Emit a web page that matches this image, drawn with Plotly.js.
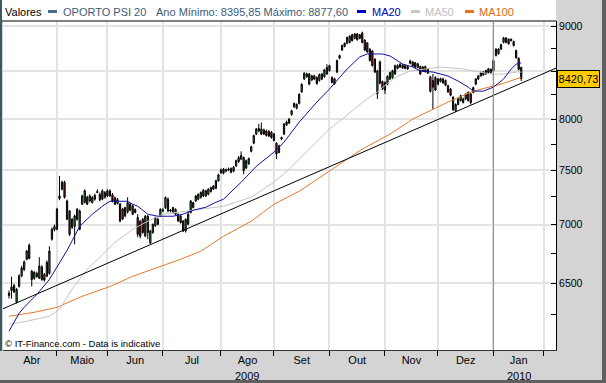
<!DOCTYPE html>
<html><head><meta charset="utf-8">
<script src="https://cdn.plot.ly/plotly-3.0.1.min.js"></script>
<style>html,body{margin:0;padding:0;background:#d4d4d4;overflow:hidden}#chart{width:606px;height:383px}</style>
</head><body><div id="chart"></div>
<script>
// ---- DATA (trading-day index; day 0 = first trading day of April 2009) ----
const firstCandleDay = 1;
const openV = [
6420,6470,6480,6345,6475,6560,6614,6700,6820,6600,
6540,6580,6542,6635,6573,6558,6581,6872,6985,6959,
7235,7321,7386,7213,7123,6976,6985,7138,6959,7183,
7200,7247,7213,7198,7265,7300,7223,7306,7244,7306,
7306,7270,7240,7190,7185,7140,7078,7113,7130,7168,
7135,7063,7030,7048,6900,7075,6840,6930,6990,7048,
7078,7130,7153,7229,7120,7108,7093,7093,7078,7033,
6944,7003,7108,7153,7213,7229,7244,7313,7259,7274,
7300,7351,7330,7400,
7475,7509,7490,7500,7515,7490,7540,7620,7605,7620,7520,
7560,7680,7760,7850,7880,7900,7890,7880,7875,7870,
7850,7760,7670,7800,7850,7940,7960,8045,8125,8110,
8160,8280,8416,8440,8470,8405,8450,8432,8400,8416,8440,8470,
8505,8432,8420,8490,8640,8730,8805,8805,8815,8900,8860,8910,
8860,8920,8840,8810,8740,8720,8630,8260,8600,8390,
8300,8360,8416,8430,8470,8560,8545,8565,8560,8525,
8610,8600,8590,8540,8550,8500,8550,8480,8440,8400,8432,
8362,8390,8416,8400,8345,8310,8225,8085,8150,8190,
8206,8206,8275,8258,8275,8362,8416,8450,8460,8470,8525,8485,
8505,8670,8690,8740,8815,8865,8850,8835,8825,8725,8640,8540];
const highV = [
6440,6555,6495,6460,6575,6645,6690,6780,6835,6610,
6600,6595,6717,6650,6585,6690,6811,6975,7000,7150,
7445,7400,7400,7225,7130,7060,7090,7150,7135,7270,
7320,7260,7275,7260,7280,7320,7290,7320,7305,7320,
7320,7285,7255,7240,7195,7150,7160,7247,7195,7180,
7145,7093,7040,7060,7085,7085,6955,7010,7070,7060,
7145,7150,7255,7245,7140,7160,7145,7100,7085,7040,
7055,7123,7220,7205,7265,7280,7300,7320,7315,7330,
7345,7360,7410,7465,
7515,7520,7515,7525,7525,7540,7600,7635,7680,7630,7600,
7620,7735,7845,7910,7950,7965,7905,7895,7890,7880,
7860,7770,7745,7825,7960,7985,8010,8095,8170,8160,
8265,8370,8490,8485,8480,8460,8460,8445,8475,8480,8525,8575,
8570,8445,8430,8625,8680,8790,8815,8880,8895,8910,8920,8920,
8910,8935,8850,8820,8750,8730,8640,8515,8615,8400,
8390,8455,8495,8515,8570,8575,8585,8580,8570,8560,
8625,8610,8600,8590,8560,8555,8560,8530,8450,8470,8445,
8425,8430,8430,8410,8355,8320,8235,8160,8215,8250,
8220,8265,8285,8270,8335,8425,8460,8495,8500,8515,8535,8530,
8625,8750,8750,8800,8877.60,8875,8860,8860,8835,8735,8650,8550];
const lowV = [
6375,6375,6420,6335,6465,6550,6600,6690,6700,6473,
6528,6545,6535,6520,6515,6550,6570,6860,6940,6950,
7220,7310,7235,7040,6900,6960,6828,7035,6950,7175,
7190,7175,7200,7190,7215,7285,7210,7220,7235,7250,
7250,7200,7175,7180,7020,7040,7065,7100,7120,7085,
7100,6890,6880,6920,6890,6872,6828,6920,6980,6995,
7070,7110,7140,7110,7110,7100,7085,7025,7010,6935,
6930,6995,7100,7145,7205,7220,7235,7250,7250,7265,
7290,7315,7320,7390,
7465,7460,7480,7490,7470,7480,7530,7570,7595,7460,7510,
7550,7670,7750,7840,7870,7840,7840,7825,7820,7805,
7780,7605,7660,7790,7840,7930,7950,8035,8115,8100,
8150,8270,8405,8430,8350,8395,8405,8355,8390,8405,8430,8460,
8495,8370,8355,8480,8630,8720,8760,8795,8805,8825,8850,8835,
8850,8805,8720,8700,8605,8550,8480,8206,8360,8300,
8258,8350,8405,8420,8460,8520,8535,8525,8520,8515,
8575,8545,8535,8530,8460,8490,8485,8470,8275,8103,8290,
8350,8380,8365,8340,8270,8235,8085,8070,8140,8180,
8160,8195,8180,8150,8265,8350,8405,8440,8450,8460,8475,8475,
8495,8660,8680,8730,8805,8805,8790,8825,8770,8635,8510,8395.85];
const closeV = [
6400,6440,6430,6450,6560,6627,6677,6770,6706,6531,
6590,6555,6643,6531,6525,6674,6770,6959,6955,7138,
7259,7386,7247,7048,6915,7048,7078,7048,7123,7259,
7306,7183,7259,7244,7229,7290,7274,7229,7290,7259,
7259,7210,7183,7225,7032,7050,7153,7198,7183,7093,
7110,6915,6900,6930,7075,6930,6944,7003,7063,7003,
7138,7123,7244,7123,7130,7153,7138,7033,7018,6944,
7048,7093,7213,7198,7259,7274,7290,7259,7306,7321,
7336,7321,7400,7455,
7502,7470,7505,7510,7480,7528,7590,7580,7640,7495,7590,
7610,7725,7835,7900,7905,7850,7850,7835,7830,7815,
7785,7655,7735,7815,7950,7970,8000,8085,8160,8150,
8255,8360,8477,8470,8362,8450,8416,8368,8463,8470,8515,8540,
8560,8380,8365,8615,8670,8780,8770,8870,8885,8835,8910,8845,
8900,8815,8730,8710,8615,8560,8490,8504,8370,8310,
8380,8445,8485,8505,8560,8530,8575,8535,8530,8548,
8585,8555,8545,8580,8470,8545,8495,8520,8285,8330,8300,
8416,8420,8375,8350,8280,8245,8095,8150,8206,8240,
8170,8258,8190,8170,8325,8416,8450,8485,8490,8505,8485,8520,
8615,8740,8740,8790,8865,8815,8800,8850,8780,8645,8520,8420.73];

const ma20Day = [1,5,7,12,17,20,24,29,34,38,41,44,48,50,52,56,60,66,70,74,79,83,86,93,99,106,110,116,123,128,135,140,143,147,149,152,157,161,164,169,175,179,183,185,189,193,197,200,202,204];
const ma20Val = [6117,6257,6305,6408,6531,6632,6776,6985,7093,7165,7210,7210,7210,7183,7165,7093,7075,7075,7093,7129,7156,7201,7229,7386,7536,7672,7770,7969,8174,8310,8523,8654,8687,8687,8687,8665,8577,8545,8502,8491,8448,8394,8330,8288,8288,8330,8416,8523,8575,8590];
const ma50Day = [1,8,17,21,26,32,37,43,50,56,62,73,86,97,106,112,120,128,134,142,147,151,155,160,166,172,181,187,192,197,202,204];
const ma50Val = [6171,6195,6234,6289,6451,6616,6717,6846,6959,7030,7093,7129,7165,7247,7386,7509,7702,7899,8020,8190,8280,8370,8445,8502,8523,8545,8523,8491,8469,8469,8491,8491];
const ma100Day = [1,11,20,30,41,50,60,69,77,86,97,106,116,126,133,141,152,161,175,185,196,204];
const ma100Val = [6234,6265,6305,6393,6473,6557,6632,6700,6768,6898,7030,7183,7302,7461,7575,7702,7849,8000,8174,8288,8362,8434];
const trendDay = [-2, 220];
const trendVal = [6288, 8559];

const monthLabels = ['Abr','Maio','Jun','Jul','Ago','Set','Out','Nov','Dez','Jan'];
const monthStartDay = [0,20,40,62,85,106,128,150,171,193,213];
const yearLabels = ['2009','2010'];
const yearLabelMonth = [4, 9];
const yTickVals = [6500,7000,7500,8000,8500,9000];
const yMinorVals = [6250,6750,7250,7750,8250,8750];
const seriesName = 'OPORTO PSI 20';

// ---- LAYOUT HELPERS ----
const W = 606, H = 383, ML = 3, MR = 50, MT = 21, MB = 33;
const PW = W - ML - MR, PH = H - MT - MB;
const fx = px => (px - ML) / PW;
const fy = py => (H - MB - py) / PH;
const FONT = '"Liberation Sans", Arial, sans-serif';

const days = closeV.map((_, i) => firstCandleDay + i);
const monthCenters = monthLabels.map((_, i) => (monthStartDay[i] + monthStartDay[i + 1]) / 2);
const fmt = v => v.toFixed(2).replace('.', ',');
const yearStart = monthStartDay[9];
const yrLows = lowV.filter((_, i) => days[i] >= yearStart);
const yrHighs = highV.filter((_, i) => days[i] >= yearStart);
const lastClose = closeV[closeV.length - 1];
// the last-value badge covers the tick label nearest to it
const coveredTick = yTickVals.reduce((a, b) => Math.abs(Math.log10(b / lastClose)) < Math.abs(Math.log10(a / lastClose)) ? b : a);

const traces = [
  {type:'candlestick', x:days, open:openV, high:highV, low:lowV, close:closeV,
   increasing:{line:{color:'#000', width:1}, fillcolor:'#3a9a3a'},
   decreasing:{line:{color:'#000', width:1}, fillcolor:'#9a2020'},
   whiskerwidth:0, hoverinfo:'skip', showlegend:false},
  {type:'scatter', mode:'lines', x:ma100Day, y:ma100Val, line:{color:'#e2782e', width:1}, hoverinfo:'skip', showlegend:false},
  {type:'scatter', mode:'lines', x:ma50Day, y:ma50Val, line:{color:'#c4c4c4', width:1}, hoverinfo:'skip', showlegend:false},
  {type:'scatter', mode:'lines', x:ma20Day, y:ma20Val, line:{color:'#1010a0', width:1}, hoverinfo:'skip', showlegend:false},
  {type:'scatter', mode:'lines', x:trendDay, y:trendVal, line:{color:'#000', width:1}, hoverinfo:'skip', showlegend:false}
];

const ann = (px, py, text, color, size, extra) => Object.assign({
  xref:'paper', yref:'paper', x:fx(px), y:fy(py), text:text, showarrow:false,
  xanchor:'left', yanchor:'middle', font:{family:FONT, size:size || 11, color:color || '#000'}
}, extra || {});

const annotations = [
  ann(3, 12, 'Valores', '#000'),
  ann(61, 12, seriesName, '#3d5a78'),
  ann(154, 12, 'Ano Mínimo: ' + fmt(Math.min(...yrLows)) + ' Máximo: ' + fmt(Math.max(...yrHighs)), '#3d5a78'),
  ann(370, 12, 'MA20', '#0000c0'),
  ann(423, 12, 'MA50', '#c0c0c0'),
  ann(477, 12, 'MA100', '#e06a10'),
  ann(3, 343, '© IT-Finance.com - Data is indicative', '#000', 9.5),
  {xref:'paper', yref:'y', x:fx(578.5), y:Math.log10(lastClose), text:fmt(lastClose), showarrow:false,
   xanchor:'center', yanchor:'middle', bgcolor:'#ffcc00', bordercolor:'#000', borderwidth:1, borderpad:1,
   width:39, height:14, font:{family:FONT, size:11, color:'#000'}}
];
yearLabels.forEach((t, i) => annotations.push({
  xref:'x', yref:'paper', x:monthCenters[yearLabelMonth[i]], y:fy(376), text:t, showarrow:false,
  xanchor:'center', yanchor:'middle', font:{family:FONT, size:11, color:'#000'}
}));

const rectP = (x0, y0, x1, y1, fill) => ({type:'rect', xref:'paper', yref:'paper', x0:fx(x0), x1:fx(x1), y0:fy(y1), y1:fy(y0), fillcolor:fill, line:{width:0}, layer:'above'});
const shapes = [
  rectP(0, 0, 556, 21, '#ffffff'),
  {type:'line', xref:'paper', yref:'paper', x0:fx(0), x1:fx(556), y0:1, y1:1, line:{color:'#000', width:1}},
  rectP(0, 0, 2, 351, '#3c5a64'),
  rectP(48, 10, 57, 13, '#4a6e8c'),
  rectP(357, 10, 366, 13, '#0000c8'),
  rectP(411, 10, 420, 13, '#c8c8c8'),
  rectP(465, 10, 474, 13, '#e8741e'),
  {type:'line', xref:'x', yref:'paper', x0:monthStartDay[9], x1:monthStartDay[9], y0:0, y1:1, line:{color:'#8c8c8c', width:1}, layer:'above'},
  rectP(602, 0, 606, 383, '#606060'),
  rectP(0, 380, 606, 383, '#606060')
];

const layout = {
  width:W, height:H, margin:{l:ML, r:MR, t:MT, b:MB, pad:0},
  paper_bgcolor:'#d4d4d4', plot_bgcolor:'#ffffff', showlegend:false, hovermode:false,
  font:{family:FONT, size:11, color:'#000'},
  xaxis:{type:'linear', range:[-1.39, 217.79], fixedrange:true, rangeslider:{visible:false},
    tickmode:'array', tickvals:monthCenters, ticktext:monthLabels, ticks:'', showgrid:false, zeroline:false,
    showline:true, linecolor:'#333', linewidth:1, tickfont:{family:FONT, size:11, color:'#000'},
    minor:{tickmode:'array', tickvals:monthStartDay.slice(1), ticks:'outside', ticklen:5, tickwidth:1, tickcolor:'#000',
      showgrid:true, gridcolor:'#e3e3e3', gridwidth:2}},
  yaxis:{type:'log', side:'right', range:[3.77622, 3.95699], fixedrange:true,
    tickmode:'array', tickvals:yTickVals, ticktext:yTickVals.map(v => v === coveredTick ? '' : String(v)),
    ticks:'inside', ticklen:5, tickwidth:1, tickcolor:'#000',
    showline:true, linecolor:'#000', linewidth:1, showgrid:true, gridcolor:'#e3e3e3', gridwidth:2, zeroline:false,
    tickfont:{family:FONT, size:10.5, color:'#000'},
    minor:{tickmode:'array', tickvals:yMinorVals, ticks:'inside', ticklen:5, tickwidth:1, tickcolor:'#000', showgrid:false}},
  annotations:annotations, shapes:shapes
};

Plotly.newPlot('chart', traces, layout, {staticPlot:true, displayModeBar:false});
</script></body></html>
